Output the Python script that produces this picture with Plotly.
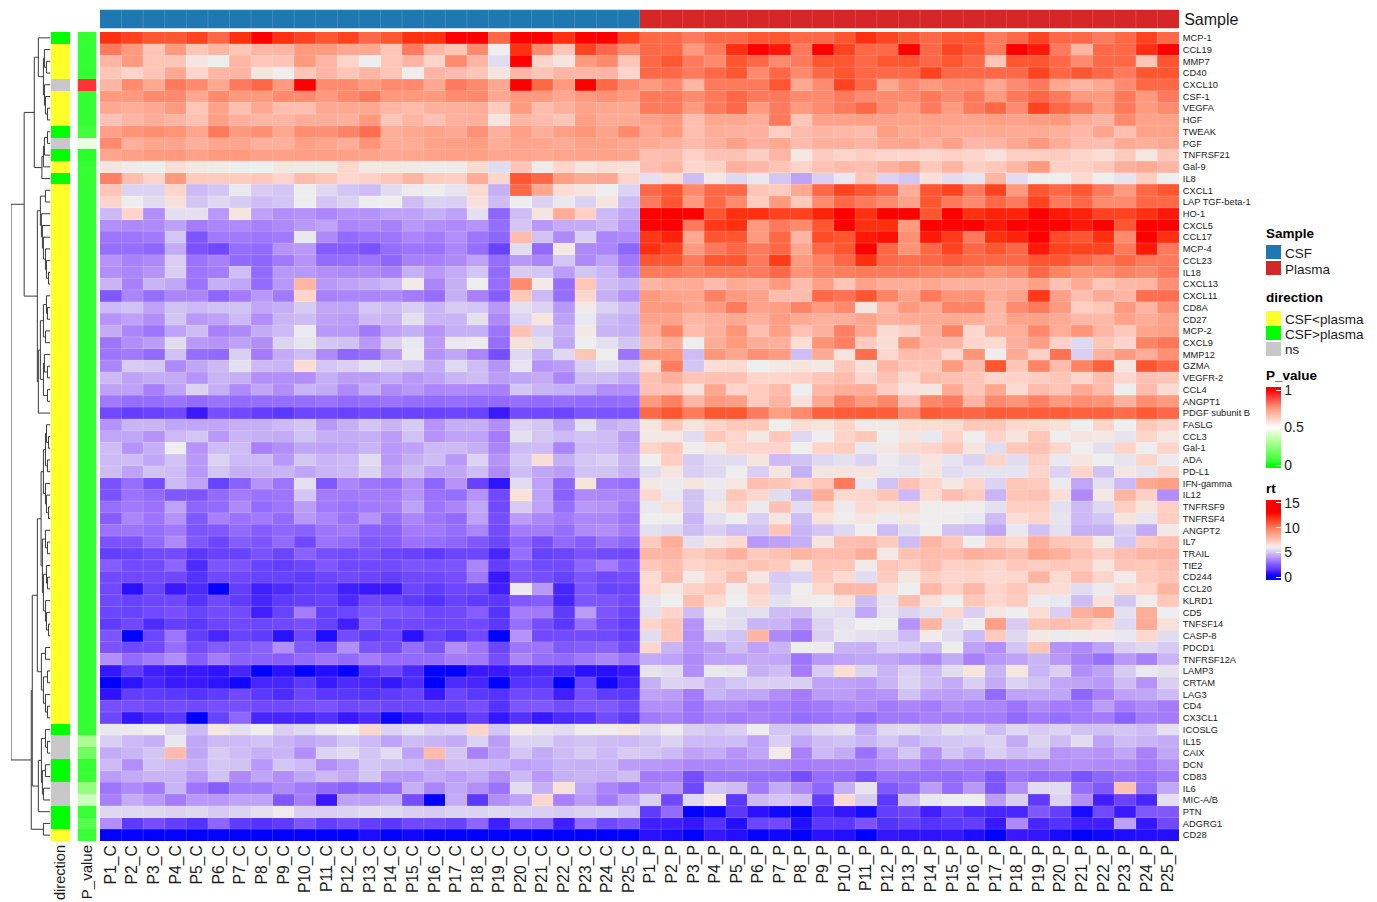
import plotly.graph_objects as go

W, H = 1377, 902

genes = ["MCP-1","CCL19","MMP7","CD40","CXCL10","CSF-1","VEGFA","HGF","TWEAK","PGF","TNFRSF21","Gal-9","IL8",
"CXCL1","LAP TGF-beta-1","HO-1","CXCL5","CCL17","MCP-4","CCL23","IL18","CXCL13","CXCL11","CD8A","CD27","MCP-2",
"CXCL9","MMP12","GZMA","VEGFR-2","CCL4","ANGPT1","PDGF subunit B","FASLG","CCL3","Gal-1","ADA","PD-L1","IFN-gamma",
"IL12","TNFRSF9","TNFRSF4","ANGPT2","IL7","TRAIL","TIE2","CD244","CCL20","KLRD1","CD5","TNFSF14","CASP-8","PDCD1",
"TNFRSF12A","LAMP3","CRTAM","LAG3","CD4","CX3CL1","ICOSLG","IL15","CAIX","DCN","CD83","IL6","MIC-A/B","PTN","ADGRG1","CD28"]
samples = [f"P{i}_C" for i in range(1, 26)] + [f"P{i}_P" for i in range(1, 26)]

rt_csf = [
[12,11.5,11,11,11.5,10.5,12,13,12,11.5,11,11.5,10.5,11,12,12,13,13,10.5,13,13,12,13,13,11.5],
[10,9,7.5,9,7.5,8,7.5,8,8,9,9,8.5,8.5,7.5,10,8,7.5,9.5,6,12,9.5,7.5,11.5,10.5,9.5],
[8,9,7.5,7.5,6.5,6,8,7.5,7.5,9,8,7,6,7.5,8,7,9.5,8,5.5,13,7,6.5,9,9.5,7.5],
[7.5,7,7.5,8.5,7,8,8,6.5,6,7.5,8,7.5,8,7.5,6,8,7.8,7.5,6.5,8,7.5,8,8,8,7],
[8,9.5,8.5,10,9.5,8.5,10,10.5,9,13,9.5,9.5,9,9.5,9.5,8.5,10,9.5,8.5,13,10.5,9,13,10.5,9.5],
[9,9,9.5,9.5,8.5,9.5,9,9,9.5,9.5,9,9.5,10,9,9,9,9.5,9.5,8.5,9,9,8.5,9,9.3,9],
[8.5,8.3,8.5,9,7.5,8.7,7.7,8.5,7.7,7.7,8.5,8.5,8.5,8,7.8,8.2,8.2,8.3,7.3,9,7.8,8.2,8.7,8.5,8.5],
[7.6,8,8.3,8,7.6,8.8,8.2,8,8,8.3,8.3,8.2,9,7.5,8,7.6,8.2,8.2,6.5,8,7.8,7.5,8.8,8.4,8.4],
[8.8,9.2,9.4,9.2,8.6,10,9,9.3,8.5,9.4,9.3,9.7,10.3,8.3,8.5,8.7,8.5,9.3,8.2,8.8,8.3,8.8,9.2,8.7,9.5],
[9.5,8.2,8.6,8.6,8.2,8.6,8.6,8.2,8.2,8.8,8.6,8.3,9.2,8.3,8.3,8.7,8.8,8.9,8.3,8.6,8.6,8.4,8.7,8.7,8.5],
[8.6,8.8,9,9,8.7,9,9,8.8,8.8,8.9,8.9,8.8,8.7,8.5,8.6,8.7,8.8,8.8,8.6,8.6,8.5,8.6,8.7,8.7,8.6],
[6.5,6.2,6,6.7,6.4,6.2,6.1,6,6.4,6.3,6.3,6.9,6.3,6.4,6.3,6.2,6.2,6.8,5.5,7.5,6.2,7,6.5,6.7,6.6],
[9.8,7.7,7,9,7.3,7.3,7.3,7.4,7,7.8,7.5,6.9,7.1,7.5,8,7.3,7.2,8.3,6.9,11,10.5,8.8,8.4,8.5,7],
[7.5,5.3,5.3,7,4.7,5,5.8,5.1,5,6,5.4,5,4.8,5.5,5.9,6,5.7,6.8,4.5,10.5,8.5,6.7,6.5,6,5.3],
[7,6,5.5,6.6,5,5.4,5.1,4.8,5,6,5,5.3,6,6,4.8,5.3,5.2,6.6,4.8,6,5.3,5.8,5.3,6.5,4.8],
[4.7,7,3.8,5.6,5.6,4,6.5,4.2,3.8,3.9,3.6,3.9,3.9,4.2,4.2,4.5,4.2,5.6,2.8,4.8,6.5,8.3,7.1,4.7,4.3],
[3.8,3.7,3.7,4.2,3.4,3.6,3.7,3.5,3.7,4,4.2,3.6,3.7,3.5,4,3.8,3.7,3.9,3,5,4,4.4,4.4,4.7,4],
[3.2,3.2,3.3,5,2.4,3.3,3.3,3.2,3.3,5.8,3.7,2.9,3.1,3.2,3.6,3.4,3.8,3.2,2.8,7.8,4.9,3.7,5.2,3.6,3.7],
[3,3,2.8,4.4,2.3,2,3,2.9,3.9,4,2.6,2.6,2.3,3,3.2,3.1,3.6,3,1.8,5.5,2.9,6.3,3.7,3.6,2.8],
[3.9,3.5,3.7,5.2,3.1,3.5,2.9,2.8,3.3,3.9,2.9,3,3.2,2.8,3.5,3.5,3.7,4.2,3,4,3.6,5,3.7,4.2,3.3],
[3.8,3.6,3.9,5.2,3.2,3.4,4.8,2.9,4,4,3.8,3.7,3.7,3.5,4.5,4,4.4,5,2.9,5.1,5,4.1,5,4.6,3.7],
[4.6,3.5,4.6,4.3,3.1,4.5,4.3,2.9,4,8,4,4.2,4.4,4.7,6.2,3.6,4.5,6,3,9.5,6.2,3,7.5,4.8,4.5],
[2.5,3.6,3,3.6,3.6,2.8,3.4,4,3.3,7,3.5,3.6,3.6,3.7,3.4,3,4.5,3.5,2.6,7.4,4.7,3,6.9,4.5,3.9],
[4.7,4.9,4.2,4.9,4.7,4.9,4.9,4.3,4.5,5.1,4.3,4.3,5,4.8,5.2,4.6,5.1,5,4,5.6,5.3,4,6.2,5.3,4.8],
[3.9,4.2,3.8,5,4,4.2,4.7,3.8,4.6,4.8,4.2,4.1,4.7,4.6,5.6,4.6,4.6,5.6,3.7,5.3,6.5,4.2,5.8,4.8,4.5],
[4.4,3.6,3.2,4.2,4.8,3.5,3.7,4.4,4.7,5.9,4,4,3.3,4.2,4.5,3.9,4.5,4.5,3.2,7.6,5.2,4.5,6.3,4.6,4.5],
[3.2,3.8,4.1,5.5,4,3.9,4.2,3.8,5.3,5.7,5,4.9,4,5.2,5.8,4.1,5.8,5.9,3,6.6,5.6,4.3,6,5.6,5],
[3.2,3.3,2.9,4.9,3,2.9,5.2,3.4,4.4,4.8,3.7,2.8,3,4.1,5.9,3.9,4.3,3.6,2.2,5.4,4.5,5.4,7.5,6,3.2],
[3.6,5.1,5,3.7,4.3,4.7,5.6,4.7,4.6,6.7,5,5.2,5.6,5.3,5.1,4.4,5.4,4.8,3.9,5.7,3.9,4.1,5.2,5.6,5.1],
[4.7,4.2,4.4,4.4,3.9,4.6,4.5,3.8,3.8,3.8,4.5,4.1,4.1,4.4,4,4.2,4.6,4.8,4.1,4.3,4.4,3.6,4.8,4.8,4.4],
[4.2,4.2,3.5,4.2,5.3,4.5,3.7,4.3,3.8,4.6,4.4,3.7,4.4,3.7,4,3.6,3.7,3.6,3.5,5,4.6,4.5,4.3,3.8,3.8],
[3.3,3,3,3.1,2.9,3.1,2.9,3,3,3,3.1,2.9,3,3.1,3,2.9,3,2.9,2.9,3,2.9,3,2.9,2.9,3],
[2,1.7,1.8,2,1,2.2,2,1.7,1.5,1.9,1.9,1.8,2,1.8,1.8,1.8,1.9,1.8,1,2.1,2,1.9,2.4,2.3,2.3],
[3.9,4.6,4.6,4.3,4.3,4.3,4.5,4.5,4.7,5,4,4.5,5,4.6,5.1,3.9,4.5,4.5,3.8,5.3,5,4.2,5.6,4.5,4.7],
[4.3,4.3,3.9,4.7,5,4,4.6,4.5,4.4,4.9,4.5,4.4,4.5,4.1,4.9,3.9,4.2,4.2,3.4,5.6,5,4.7,4.9,4.8,4.1],
[4.8,3.9,4.5,6,3.9,4.8,4.8,3.5,3.8,4.3,4.2,4.3,4.6,4,4.2,4.7,4.7,4.5,3.6,4.8,4.8,3.6,4.8,4.7,4.3],
[4.7,4.8,4.3,4.9,4,5.3,4.7,4.7,4,5,4.6,4.7,5.5,4,4.5,4.8,4,5.3,3.9,5,6.7,4.5,5,5.2,4.6],
[4.8,4.2,4.9,4.8,4,5,4.5,4.5,4.6,4.3,4.6,4.7,5.3,4.2,4.8,4.2,4.3,4.8,3.7,4.8,4.3,4.1,4.9,4.9,4.5],
[2.3,3,2.2,4.7,4.2,1.8,2.7,3.9,3.2,5.6,2.5,3.6,3.2,3,3.8,2.8,3.9,1.8,0.8,5.5,4.2,2.8,6.5,3.2,3],
[2.3,3.1,2.9,2.5,2.4,2.9,3.4,3.1,3.2,5,3.4,3.3,3.4,3.4,3.9,3.1,3,3.9,2,6.6,4.2,2.7,3.7,3.6,3.6],
[3,3.3,3.1,4.2,2.8,2.9,3.7,2.9,3.2,4.1,3.3,3.1,3.3,3.4,4.2,3.2,3.6,4.3,2,5.1,4.2,3,4,3.9,3.4],
[2.6,3.6,3.2,3.9,2.5,3.5,3.1,3.3,2.9,4,3.6,3.1,3.9,3,3.6,3.2,2.9,4.2,2.2,4.1,3.6,3.3,3.6,3.6,3.2],
[3.1,3.2,3,3.3,2.4,2.5,2.9,2.6,2.8,2.7,3.2,3.3,2.7,2.7,3.4,3.3,3,3.6,2.1,3.4,3.4,3,3.7,3.8,3.4],
[2.3,2.4,2.9,3.7,2.5,1.9,2.6,2.4,2.9,2,3.1,2.9,2.5,2.6,3.1,3,2.8,2.5,1.9,2.8,2.2,2.9,2.6,3.1,2.8],
[1.7,1.8,2.1,2.1,1.5,1.8,1.8,2.3,1.9,2.7,2.2,2.1,2.3,1.9,1.8,1.6,1.9,1.9,1.2,3,1.8,1.9,2.3,2.1,2],
[2.6,2.1,2.1,2.8,1.3,2.4,2.4,1.8,1.7,1.9,2.5,2,2,2.1,2.4,2.3,2.4,3.6,1.7,2.5,2.1,2.1,2.8,3.4,2.6],
[2,2,2,2,1.4,2,2,1.8,1.8,1.6,1.9,2.1,1.9,1.7,2,2,2.2,3.3,1,2.4,2.2,1.8,2.4,2,2.2],
[2,0.7,1.8,1,1.3,0.1,1.7,1.1,1.3,1.6,1.6,1.1,1,1,1.9,1.6,1.9,1.9,1.1,5.9,4,1.2,2.4,1.8,1.9],
[2,1.8,1.9,2,1.4,2,1.6,1.2,1.6,1.7,1.8,1.3,2,1.8,1.6,1.4,1.8,1.6,1.5,2.5,2.6,1.2,2.4,2.4,2.1],
[1.9,1.8,2,2.2,1.8,2.1,2.1,1.1,1.8,3.4,1.7,1.9,2.4,2.4,2.3,1.9,2,2.6,1.4,3.4,3.3,1.6,4.1,2.4,1.9],
[1.6,2,1.3,1.7,1.5,1.9,2,1.9,2,2.2,1.8,1.1,2.6,1.9,2,1.9,2,2,1.5,3,2.2,1.5,3,2.1,1.7],
[2.4,0,1.9,3.2,1.7,1.2,1.8,1.6,0.7,1.9,0.5,2.1,1.6,1.9,0.7,1.8,1.4,2,0,3.9,2,2.1,2.1,2,1.7],
[2.3,2,2,3,2.1,2.6,2.5,2.7,3.8,2.5,2.3,3.8,2.3,2.1,3,2.4,3.8,3.2,1.9,3.2,3.2,2.5,2.6,2.7,2.1],
[3.8,2.9,3.3,3.8,2.6,3.4,2.7,2.7,2.6,2.9,3.2,2.9,3.4,2.9,2.9,3,3.4,3.3,2.2,3.6,3,2.9,3.3,3.6,3.1],
[0.9,1.6,1.1,1,1,0.8,1.2,0,0.7,0.1,0.6,0.1,1.4,1.9,1.3,0.1,0,1,1,1.2,1.3,1.2,0.7,0.7,1],
[0,0.8,1.2,1,1,0.8,0.3,1.2,1.2,1.5,1,1.3,1.2,0.9,1.3,0,1.3,1.2,0,1.4,1.4,0,1.8,0.3,1.2],
[0.8,1.7,1.6,1.5,1.4,1.6,2,1.5,1.3,1.9,1.5,1.5,1.4,1.6,1.8,1,1.9,1.5,1.4,2,1.9,1.1,2.2,1.6,1.5],
[2.2,2.2,2,2.1,2,2.2,2.2,2,2,2.2,2.3,2,2.1,1.9,1.9,1.9,1.9,2.2,1.4,2.4,2.5,2.1,2.5,2.5,2.1],
[1.9,0.9,1.3,1.5,0,1.8,2.8,1.2,1.2,1.2,1.4,1,1.3,0.2,1,1.3,1.2,1.7,0.9,1.4,1,1.3,1.4,2.1,1.6],
[5.8,5.9,6,5.4,4.7,6.4,5.6,6,5.2,5.4,5.8,6,6.9,5.3,5.6,5.2,5.3,7,5,6.2,5.7,5.5,6,6.1,6.4],
[5.2,4.7,4.5,5.8,4.3,4.7,4.7,4.9,4.6,4.3,4.5,5,4.7,4.2,4.8,4.6,4.4,5.3,4.1,5.3,5.3,4.8,4.9,4.8,4.7],
[4.4,4.6,5,7.8,4.3,5.1,4.8,4.5,4.6,3.8,5.3,5.5,5,5.5,4.2,7.8,5,3.5,4.2,5,4.4,4.8,5.1,4.7,5.1],
[4.7,3.8,4.9,4.7,4.5,5,4.9,4,5,4.7,3.8,4.2,5,4.8,4.7,4.4,4.8,4.7,4.6,4.2,4.3,4.6,4.5,4.6,4.1],
[4.1,4.4,4.6,4.6,4,4.9,3.7,4.3,3.8,4.3,4.7,4.4,5,4,4,4.4,4.1,4.4,3.8,4.7,4,4.5,4.6,4.5,4.8],
[3.2,3.7,3.3,4.6,3.2,2.6,3.3,3.3,3.7,3.3,2.9,2.7,2.9,3,4.5,3.6,4.3,3.8,3.1,5.5,4.5,6.6,4.3,3.6,3.1],
[3.5,4.4,4,3.4,4,4,4.2,4.2,2.5,3.4,1,4.2,4.2,4.5,2.2,0,4.4,1.5,3.8,4.2,6.9,3.5,4.1,3.4,4.2],
[5.4,5.4,5.4,5.3,5.4,5.1,5.3,5.6,6.1,5.2,5.2,5.3,5.5,5.4,5.2,5.1,5.3,5.3,5.4,5.3,5.2,5.1,5.3,5.4,5.1],
[3.8,1.6,2.2,1.7,1.4,2.8,1.6,1.4,1.6,2.4,1.7,2.1,1.7,1.5,2,2,1.8,2.8,1.1,2.8,2.7,1.1,2.9,2,2.4],
[0,0.1,0,0.1,0,0.1,0,0,0,0.1,0,0,0.5,0,0.3,0,0,0,0,0,0,0,0,0,0],
]

rt_plasma = [
[10.5,10.5,10,10.5,10.5,11,11,10.5,10.5,11,12,11.5,11,10.5,11,11,10,10.5,11.5,10.5,10.5,10,10.5,11.5,10.5],
[10.5,10.5,9,10,12,13,12.5,10,13,11.5,10.5,10.5,13,10.5,11.5,11,10,13,12.5,10,8,10.5,10.5,12,13],
[10.5,11,10,9.5,11,10.5,9.5,10,11,11,10.5,11,11,10.5,11,10.5,7.5,11,11,10.5,9.5,10.5,10.5,7.5,11],
[10.5,10.5,10,10.5,11,9.5,10.5,9.5,10.5,11,10.5,10.5,10.5,11.5,10.5,10.5,10.5,10.5,11.5,10.5,11,10.5,10,11,11],
[9,9.5,8,10,10,10,11,8.5,9.5,11.5,10.5,8.5,9.5,9,9.5,9.5,8.5,9.5,10,8.5,8,8.5,9.5,10.5,10.5],
[10,10,9.5,10,10.5,10,10,9.5,9.5,10,9.5,9.5,9.5,10,9.5,10,9,10,10.5,10,9,9,10,9,10],
[10,10,9,10,10.5,9,10,9,9.5,10,10.5,9.5,9,10,9,10,10.5,9.5,11.5,10.5,10,9,10,9,9.5],
[8.7,9,7.7,8.5,8.5,8.3,10,7.5,8.7,8.7,8.8,8.7,8.7,8.7,8.7,8.6,8.8,8.7,8.9,9,8.3,8,9.5,8.7,8.7],
[8.5,9,7.7,8.3,8.2,8.2,7.2,7.8,8,7.9,7.8,8.9,8.4,8.6,8.4,8.4,8.5,8.4,8.4,8.2,7.9,8.6,7.7,8.7,8.7],
[8.4,8.2,7.8,8.2,8.7,8.2,8.5,7.8,8.2,8.2,8,8.5,8.6,8.2,8.7,7.9,8,8.5,9,8.3,7.8,7.7,8.4,8.2,8.5],
[7.7,7.8,7.1,7.6,7.6,7.2,8,6.3,7.3,7,7.2,7,7,6.9,7.1,7,6.6,7.2,7.2,7.3,7,6.7,7.3,6.4,7.5],
[7.7,8,6.9,7.1,8.2,7.9,7.5,7,7.6,7.8,7.7,8.1,8.6,7.4,8,7.2,7.4,8,9,7.1,7.1,7.4,8.2,8.4,8],
[5.6,6.8,4.8,6.3,5.4,5.8,5,4.2,5.2,5.8,7.5,5.3,5,6.6,5.5,5.7,8,5.5,6,6,6.8,6,5.7,7.2,6],
[10.5,11,9.5,10.5,10.5,7.5,7.3,8.5,10.5,11.5,11,10.5,8.3,11,11.5,10,11.5,9,11,10.5,11,10,9,10.5,11],
[10,11,9,10.5,9.5,7.2,9,7.4,9.5,10.5,10,9.5,8.7,11,10,9.5,10.5,10,11.5,10,10.5,9.5,9.5,10.5,10.5],
[13,13,13,11,12,12,11.5,11.5,12.3,13,12,13,13,11,13,12,12.3,12.3,13,12.5,12.3,11.5,11.5,12,12.5],
[13,13,10,11.8,12,9,10,9.5,11,13,12,12,9,13,13,13,12.5,13,13,13,12.5,13,11,13,13],
[11.8,12.3,8.5,11,11,9,10.5,8,11.3,11,12.5,12.7,9.3,12.5,11.7,10,12,12.3,13,11.3,11,12,9.5,13,12],
[12,11.5,9,10,10.5,10,10.5,8.5,10.5,11,13,10.5,9.2,10.5,11.5,10.5,11,10.5,12.5,11.5,11.5,11.5,10,12.5,10],
[11,11,10,11,11,10,11.7,9,9.8,10.5,12,10.5,10.3,10.5,10.8,10.5,10.5,10.5,11,11,10.5,10,10.5,10,10],
[10,10,9.7,10,10,10,10.5,9.2,9.7,9.9,10,10,10,9.7,9.7,9.7,9.2,9.5,10.5,9.7,9.2,9.3,9.8,9.5,10],
[8,8.3,8.4,7.8,8.4,8.2,9,7.8,8.8,7.5,8.7,8.3,8.3,8.5,8.2,8.2,8.2,8.2,8.8,7.6,8.4,7.5,7.9,8,9.3],
[9,8.7,8.6,9.8,9,8.7,7.8,7.8,10.5,10.2,11,9.7,8.7,10,9.2,9.2,8.3,8.7,11.8,8.8,7.7,8.4,8,10.3,10.3],
[9,9.1,8.6,9,10,8.7,8.9,9.7,9,9.5,6.5,8,9,8.5,9.7,9.7,8,9.5,10,9,7.2,7.4,9,8,9.3],
[8.7,8.7,8,8.2,8.5,8.2,8.9,8.4,8.2,8.2,8.6,8.1,8.3,8.4,8.4,8.3,7.9,8.7,8.7,8.4,7.9,7.9,8.7,8.3,8.7],
[8.3,9.7,7.8,8.2,9.2,7.7,8.8,7.6,8.2,9.8,8.5,6.8,7.2,8.2,9.7,6.9,8.2,8.3,9.6,8.3,9.2,8,7.4,8.6,8.8],
[7.8,8.3,6,8.3,9,8.3,8.2,6.7,9.2,9.8,7.3,6.7,9,8,8,7,6.8,8.2,8.8,7.1,5.4,7.5,7,9.7,10.1],
[9.2,9.2,4.8,9.1,8.6,9.3,8.9,4.8,8.4,6.5,10.3,6.9,7.8,7.8,6.9,9.2,6,8.4,7.1,10.2,5.2,8.1,9,8.3,9.3],
[6.8,9.9,5,6.7,6.8,6,6.3,6.5,6.3,7.4,6.6,8,7.5,7.5,9,7.8,11,7.5,9.7,7.8,9.7,10.7,6.4,11,10.5],
[7.6,8.2,7.5,7.6,7.6,7,7,7.1,7.5,7.8,6.9,7.6,6.9,7.8,7.6,7.5,7,7.1,7.2,7.5,7,7.7,6.9,7.6,7.5],
[7.6,7.6,6.6,8.5,7,7.3,7.8,6,7.9,8.2,8.3,7.2,6.6,6.5,8.4,7.5,8.5,6.8,7.8,7.5,8.4,7.8,6,7.8,6.8],
[9,9.8,8,9,8.8,7.3,8,6.6,8.5,9.8,9,9.6,7.7,9.6,9.9,8,9.5,9.2,9.8,9,9.4,9.2,8.2,9.4,9],
[10.5,11,10,11,11,10,8.8,9.5,10.7,10.8,10.9,10.8,9.5,10.9,10.7,10.6,10.9,10.8,10.8,10.8,10.7,10.7,10.4,10.9,10.5],
[6.5,7.4,6.5,7,7.4,7.4,6,6.7,6.5,7,6.2,6.3,6.7,6.7,6.8,7.4,7.4,6.9,6.8,6.6,6,7,6,7.4,7],
[6.3,6.4,5.5,7.4,6.9,6.3,7.4,5.4,6,7,7.4,6,6.5,5.8,7,6,7,6.5,7.5,6,6.5,6.3,5.7,7,6.4],
[7,7.4,6.1,6.4,7,7,7,6,7,7.2,5.8,6.3,6.8,7,7.4,6.5,5.5,7.4,7.6,6.9,6,5.6,7,6,7],
[6,7.2,5.1,5.5,5.5,6.5,4.7,4.9,5.4,5.6,5.3,5.9,5.6,6.5,5.7,5.3,7,5.5,7.2,5.8,6.5,6,5.7,7,5.9],
[5.5,6.5,5.2,5.4,6,5.2,6.5,4.5,6.5,6.5,6.5,5.8,5.7,6.5,5.5,5.7,5.7,5.7,7,5.3,7,4.9,6.4,5.7,7],
[6.3,5.9,6.5,5.9,6.4,7.7,7.5,7,7.5,10,5.8,4.9,7.6,7,6.3,7,5.3,7.5,7.3,5.9,4.3,5.6,4.7,8.5,8.8],
[6.9,5.8,4.9,5.7,7.4,6.9,5.5,4.6,8.3,6.8,7,7.5,4.7,6.8,7.7,7.3,4.6,7.5,7.6,6.7,3.7,6.3,8,7.1,3.8],
[5.8,6.6,4.9,6.4,7,5.9,7.6,5.5,7.1,5.9,6.8,6.6,6.7,6.1,6.1,6.1,5.6,7.2,7.2,5.6,4.7,5.4,7.2,6.5,7.2],
[6,6.1,4.6,5.6,6,5.2,6.4,4.8,6.6,6.1,6.5,5.9,6.4,6,6.1,5.8,4.8,6.7,7,5.7,4.7,5,6.5,5.7,7.2],
[5.6,5.4,4.8,5.2,4.8,4.9,7.5,4.6,5,5.4,6,4.8,5.5,6,4.9,4.8,4.3,5.8,4.9,5.6,4.5,4.5,5.2,4.4,6.3],
[7.3,8.3,5.6,6.5,6.8,4,4.2,4.5,6.5,7.7,7.8,7.3,4.8,8,7.4,6,7.2,6.8,8.2,7.5,7.3,6.3,5,7.3,7.7],
[8,8,7.3,7.6,8.2,7.3,7.6,8,7.8,7.8,8.3,6.3,7.6,7.8,7.8,8.2,8,7.7,8.6,8.2,7.6,7.2,7.7,8,8],
[7.4,7.7,7,7.2,7.3,7.6,7.3,6.5,7.5,7.5,6.2,7.5,7.2,7.7,7.1,7.2,6.9,7.4,7.2,7.4,7.3,6.5,7.5,7.4,7.7],
[6.8,7.8,6.2,7,7.7,6.4,5.1,5.3,7.3,6.8,5.5,7.3,6.4,7.2,6.9,7,6.8,6.9,8,6.8,7.7,7,6.2,7.3,7.5],
[6.9,6.4,7.1,7.4,6.2,7.1,5.3,6,6.9,7.9,7.9,6.7,6,7.9,7.1,7.9,7,7.4,6.8,6.7,5.5,5.9,6.8,7,8],
[5.7,6,7.7,6.8,6,6.8,5.6,6.2,6,6.6,4.8,5.7,7.7,6.6,6,7.4,6.9,7.3,5.9,5.8,4.8,6.6,5,6.1,7.4],
[5.6,7,4.8,6.1,5.5,5.6,4.8,4.8,5.6,5.5,4.3,5.7,5.3,5.6,6.9,5.2,6.4,6,6.7,5.2,8.2,8.7,5.6,8.3,6],
[7,7.5,3.9,5.7,5.5,4.6,4.6,4,5.3,5.7,6,6,3.9,8,5.5,6,8.8,5.1,7.5,7.7,7.5,7,5.4,8.4,6.6],
[5.5,7.5,3.8,5.2,4.9,8,3.7,3.2,5.2,5.8,5.6,5.5,4.7,6.2,5.5,4.8,7.3,5.4,6.3,5.9,6.2,6.2,5.8,6.9,5.5],
[6.9,4.6,3.9,4.1,4.8,4.2,4.6,6,5.9,4.6,4.5,5.2,5.2,4.8,6,4.2,3.8,5,7.5,3.9,3.7,4.2,5.2,5.4,5.1],
[4.4,4.2,3.7,4.2,4.2,4.4,4.3,3.2,4,4.2,4.3,4.3,4,3.7,4.4,3.5,4,4.2,4.6,4,3.5,3,4,3.5,4.6],
[5.7,5.5,3.8,5.8,5.7,4.5,4.8,3.4,5.1,6.7,5.3,4.6,5.2,4.7,5.5,6.5,4.6,6.4,4.6,5.2,3.8,4.2,5.1,5.8,5.6],
[4.5,5.3,5.2,4.6,5,5.2,5.2,5.2,4.2,4.2,4.1,4.6,5.3,4.8,4.4,5.2,4.4,5.3,4.9,4.3,4.2,4,4.8,3.9,5.2],
[4.2,4.1,3.4,4.6,4.3,4.3,3.8,3.4,4.1,4.1,3.8,3.9,4.9,4.2,4.1,4.3,2.9,4.2,4.3,4.3,2.8,3.5,4.2,4.3,4.8],
[3.8,3.8,3.1,3.7,3.7,3.4,3.4,3.2,3.3,3.6,3.7,3.3,3.6,3.4,3.8,3.6,3.6,3.2,3.7,3.4,3.3,4.1,3.4,3.7,3.4],
[3.3,3.5,3.1,3.5,3.3,3.5,3.3,3,3.1,3.3,2.9,3.3,3.3,3.5,3.4,3.4,3.4,2.9,3.3,3,3.3,3.4,2.7,3.4,3.4],
[5.5,5.9,5.2,5,5.2,6,5,4.9,5.4,5.6,4.4,5.4,5.5,5.1,5.6,5.4,4.8,5.4,5.1,5.3,4.9,4.9,5,4.8,5.6],
[4.9,5.3,4.7,4.7,4.8,4.2,5.2,4.3,4.8,4.9,4.6,5,4.5,4.9,5,5.1,5.3,4.4,5.3,4.8,5.5,4.2,4.8,4.6,4.4],
[5,4.7,4.2,4.4,3.9,4.3,6.2,3.5,4.7,4.4,3.1,4.2,5,3.9,5,4.5,5.2,4.8,5,3.9,4,3.9,4.3,3.5,4.3],
[4,3.9,3.6,3.6,3.7,3.7,3.6,3.4,3.5,3.5,3.5,3.8,3.9,3.4,3.6,3.4,3.4,3.6,3.6,3.8,3.8,3.7,3.7,3.4,3.8],
[3.4,3.4,2.2,3.1,3.1,3,3,2.2,3,2.9,2.3,3.1,3,3,2.9,3.1,2.4,3.2,2.9,3,2.3,2.8,3.1,3,3.3],
[3.6,3.9,2,5,4.8,3.3,4.4,3.7,2.8,4.5,5.7,2.5,2.9,4.1,2.9,4,2.4,3.8,5.5,5.5,3,2.5,7.6,3,4.3],
[5.2,2,5.4,6.3,1.5,4.7,5,4.8,1.7,6.8,5.1,1.5,4.8,5.8,6,6,4.1,5.2,1.6,5.3,3.8,1.1,1.8,1.2,5.6],
[1.6,2.9,0,0.3,1.5,0.7,0.3,0,1.2,0.9,0.4,1.7,1.9,1.1,1.7,1.3,1.2,1.2,2.5,1.7,0.4,2,1,2.5,2.5],
[1.1,1.1,0.9,1.4,0.6,1.9,2,0.6,1.5,1.5,2.3,1.4,1.7,1.4,1.5,1.7,1,3.7,1.2,1.4,1.1,1.1,4.2,0.9,2],
[0.7,0.5,0,0.9,0.6,0.1,0.3,0,0.7,0.6,0,0.9,0.8,0.8,0.9,0.5,0,1,0.9,0.4,0,0.3,0.5,0.6,0.6],
]

direction = ["CSF>plasma","CSF<plasma","CSF<plasma","CSF<plasma","ns","CSF<plasma","CSF<plasma","CSF<plasma",
"CSF>plasma","ns","CSF>plasma","CSF<plasma","CSF>plasma"] + ["CSF<plasma"]*46 + ["CSF>plasma","ns","ns","CSF>plasma",
"CSF>plasma","ns","ns","CSF>plasma","CSF>plasma","CSF<plasma"]
p_value = [0.05,0.05,0.05,0.05,0.92,0.05,0.05,0.05,0.08,0.45,0.04,0.05,0.05] + [0.05]*46 + \
          [0.05,0.3,0.17,0.05,0.06,0.25,0.38,0.06,0.12,0.06]

# dendrogram: (height, left, right); a leaf is a row index
tree = (39,
  (26,
    (16,
      (12, 0, (7, (6, 1, (4, 2, 3)), (6, 4, (5, 5, (3, 6, 7))))),
      (8.5, (7, (6, (3, 8, 9), 10), 11), 12)),
    (13,
      (10, (5, 13, 14), (9, 15, (8, 16, (7, 17, (5, 18, (4, 19, (2, 20, 21))))))),
      (12, (10, (7, (4, 22, (3, 23, 24)), (5, 25, 26)), (7, (6, 27, (3, 28, 29)), (3, 30, 31))), 32))),
  (19,
    (18,
      (13,
        (9.3,
          (7, (5, (4, 33, (2, 34, 35)), (3, 36, 37)), (5, 38, (4, 39, (2, 40, 41)))),
          (8, (5, 42, (3, 43, 44)), (7, (4, 45, (3, 46, 47)), (5, 48, (4, 49, (2, 50, 51)))))),
        (9, (5, 52, 53), (7, (3, 54, 55), (5, 56, (3, 57, 58))))),
      (12,
        (9, (5, 59, (3, 60, 61)), (8, (5, 62, 63), (7, 64, 65))),
        66)),
    (7, 67, 68)))

legend_sample = [("CSF", "#1F77B4"), ("Plasma", "#D62728")]
legend_direction = [("CSF<plasma", "#FFFF2A"), ("CSF>plasma", "#00FF00"), ("ns", "#C8C8C8")]

rt_stops = [(0,"#0000FF"),(1,"#3A18FF"),(1.5,"#5A38FF"),(2,"#7048FF"),(2.5,"#8058FF"),(3,"#966EFF"),(3.5,"#A880FA"),
            (4,"#B898F8"),(4.5,"#C6B0F5"),(5,"#D4C6F4"),(5.5,"#E2DCF0"),(6,"#EEEEEE"),(6.5,"#F6E4DE"),(7,"#FFD4CA"),(8,"#FFB5A3"),
            (9,"#FF9A7E"),(10,"#FF7A5C"),(11,"#FF5632"),(12,"#FF3010"),(13,"#FF0000"),(15.6,"#FF0000")]
p_stops = [(0,"#00FF00"),(0.05,"#33FF33"),(0.17,"#70FF60"),(0.3,"#AAFF90"),(0.38,"#CCFFBB"),(0.45,"#E8FFE0"),(0.5,"#FFFFFF"),
           (0.62,"#FFCFC2"),(0.75,"#FF9E81"),(0.92,"#FF3333"),(1.0,"#FF0000")]

for name, tbl in (("csf", rt_csf), ("plasma", rt_plasma)):
    assert len(tbl) == 69, (name, len(tbl))
    bad = [(i, len(r)) for i, r in enumerate(tbl) if len(r) != 25]
    assert not bad, (name, bad)
assert len(direction) == 69 and len(p_value) == 69

TEXT = "#1a1a1a"
FONT = "Liberation Sans"

def xdom(a, b): return [a / W, b / W]
def ydom(top, bot): return [1 - bot / H, 1 - top / H]
def scale(stops, lo, hi):
    s = [[(v - lo) / (hi - lo), c] for v, c in stops]
    return [[0, stops[0][1]]] + s + [[1, stops[-1][1]]]

RT_LO, RT_HI = -0.6, 15.6
P_LO, P_HI = -0.04, 1.04
rt_scale = scale(rt_stops[:-1], RT_LO, RT_HI)
p_scale = scale(p_stops, P_LO, P_HI)

rows = list(range(len(genes)))
cols = list(range(len(samples)))
z = [a + b for a, b in zip(rt_csf, rt_plasma)]

fig = go.Figure()
fig.add_trace(go.Heatmap(z=z, x=cols, y=rows, colorscale=rt_scale, zmin=RT_LO, zmax=RT_HI, xaxis="x", yaxis="y",
    colorbar=dict(x=1266/W, xanchor="left", y=1-580/H, yanchor="bottom", lenmode="pixels", len=100, thickness=15,
        xpad=0, ypad=0, outlinewidth=0, ticks="inside", ticklen=5, tickcolor="white", tickvals=[0,5,10,15],
        tickfont=dict(size=14, color=TEXT, family=FONT),
        title=dict(text="<b>rt</b>", side="top", font=dict(size=13.5, color="#000", family=FONT)))))

# Sample bar
kinds = [0]*25 + [1]*25
fig.add_trace(go.Heatmap(z=[kinds], x=cols, y=["Sample"], xaxis="x2", yaxis="y2", showscale=False, zmin=0, zmax=1,
    colorscale=[[0, legend_sample[0][1]], [0.5, legend_sample[0][1]], [0.5, legend_sample[1][1]], [1, legend_sample[1][1]]]))

# direction column
dir_names = [d[0] for d in legend_direction]
dz = [[dir_names.index(d)] for d in direction]
c = [d[1] for d in legend_direction]
fig.add_trace(go.Heatmap(z=dz, x=["direction"], y=rows, xaxis="x3", yaxis="y3", showscale=False, zmin=0, zmax=2,
    colorscale=[[0,c[0]],[1/3,c[0]],[1/3,c[1]],[2/3,c[1]],[2/3,c[2]],[1,c[2]]]))

# P_value column
fig.add_trace(go.Heatmap(z=[[p] for p in p_value], x=["P_value"], y=rows, xaxis="x4", yaxis="y4",
    colorscale=p_scale, zmin=P_LO, zmax=P_HI,
    colorbar=dict(x=1266/W, xanchor="left", y=1-468/H, yanchor="bottom", lenmode="pixels", len=101, thickness=15,
        xpad=0, ypad=0, outlinewidth=0, ticks="inside", ticklen=5, tickcolor="white", tickvals=[0,0.5,1],
        tickfont=dict(size=14, color=TEXT, family=FONT),
        title=dict(text="<b>P_value</b>", side="top", font=dict(size=13.5, color="#000", family=FONT)))))

# faint cell separators
gx, gy = [], []
for k in cols[1:]:
    gx += [k - .5, k - .5, None]; gy += [-.5, len(genes) - .5, None]
for k in rows[1:]:
    gx += [-.5, len(samples) - .5, None]; gy += [k - .5, k - .5, None]
fig.add_trace(go.Scatter(x=gx, y=gy, mode="lines", xaxis="x", yaxis="y", hoverinfo="skip", showlegend=False,
                         line=dict(color="rgba(255,255,255,0.18)", width=1)))
gx2, gy2 = [], []
for k in cols[1:]:
    gx2 += [k - .5, k - .5, None]; gy2 += [-.5, .5, None]
fig.add_trace(go.Scatter(x=gx2, y=gy2, mode="lines", xaxis="x2", yaxis="y6", hoverinfo="skip", showlegend=False,
                         line=dict(color="rgba(255,255,255,0.16)", width=1)))

# dendrogram
dx, dy = [], []
def walk(node):
    if isinstance(node, int):
        return 0, node
    h, a, b = node
    ha, ya = walk(a); hb, yb = walk(b)
    dx.extend([ha, h, h, hb, None]); dy.extend([ya, ya, yb, yb, None])
    return h, (ya + yb) / 2
walk(tree)
fig.add_trace(go.Scatter(x=dx, y=dy, mode="lines", xaxis="x5", yaxis="y5", hoverinfo="skip", showlegend=False,
                         line=dict(color="#3a3a3a", width=1)))

blank = dict(ticks="", showgrid=False, zeroline=False, showline=False)
pad = dict(ticks="outside", ticklen=1, tickwidth=1, tickcolor="rgba(0,0,0,0)", showgrid=False, zeroline=False, showline=False)
yr = [len(genes) - .5, -.5]
main_dom_x = xdom(100, 1179)
main_dom_y = ydom(32, 841)
xfont = dict(size=15.7, color=TEXT, family=FONT)
layout = dict(
    width=W, height=H, margin=dict(l=0, r=0, t=0, b=0, autoexpand=False), paper_bgcolor="white", plot_bgcolor="white", showlegend=False,
    font=dict(family=FONT),
    xaxis=dict(domain=main_dom_x, range=[-.5, 49.5], tickvals=cols, ticktext=samples, tickangle=-90, tickfont=xfont, anchor="y", **blank),
    yaxis=dict(domain=main_dom_y, range=yr, side="right", tickvals=rows, ticktext=genes, anchor="x",
               tickfont=dict(size=9.3, color=TEXT, family=FONT), **pad),
    xaxis2=dict(domain=main_dom_x, range=[-.5, 49.5], showticklabels=False, anchor="y2", **blank),
    yaxis2=dict(domain=ydom(9.5, 28.5), side="right", anchor="x2", tickfont=dict(size=16, color=TEXT, family=FONT), **pad),
    yaxis6=dict(domain=ydom(9.5, 28.5), range=[-.5, .5], visible=False, anchor="x2", overlaying="y2"),
    xaxis3=dict(domain=xdom(51, 70), tickangle=-90, tickfont=dict(size=14.6, color=TEXT, family=FONT), anchor="y3", **blank),
    yaxis3=dict(domain=main_dom_y, range=yr, showticklabels=False, anchor="x3", **blank),
    xaxis4=dict(domain=xdom(77.5, 96.5), tickangle=-90, tickfont=dict(size=15, color=TEXT, family=FONT), anchor="y4", **blank),
    yaxis4=dict(domain=main_dom_y, range=yr, showticklabels=False, anchor="x4", **blank),
    xaxis5=dict(domain=xdom(11, 50.5), range=[39, 0], visible=False, anchor="y5"),
    yaxis5=dict(domain=main_dom_y, range=yr, visible=False, anchor="x5"),
)

shapes, annots = [], []
def note(x, y, text, size=13.5):
    annots.append(dict(x=(x-2)/W, y=1-y/H, xref="paper", yref="paper", xanchor="left", yanchor="middle", showarrow=False,
                       text=text, font=dict(size=size, color=TEXT if not text.startswith("<b>") else "#000", family=FONT)))
def swatch(y0, y1, col):
    shapes.append(dict(type="rect", xref="paper", yref="paper", x0=1266/W, x1=1281/W, y0=1-y1/H, y1=1-y0/H,
                       fillcolor=col, line=dict(width=0)))
note(1266, 233, "<b>Sample</b>")
for (label, col), (y0, y1) in zip(legend_sample, [(245, 259), (261, 275)]):
    swatch(y0, y1, col); note(1285, (y0 + y1) / 2 + 1, label, 13.5)
note(1266, 298, "<b>direction</b>")
for (label, col), (y0, y1) in zip(legend_direction, [(311, 325), (326, 340), (342, 356)]):
    swatch(y0, y1, col); note(1285, (y0 + y1) / 2 + 1, label, 13.5)
layout["shapes"] = shapes
layout["annotations"] = annots

fig.update_layout(**layout)
fig.write_html("out.html", config=dict(displayModeBar=False),
               post_script="document.body.style.margin='0';document.body.style.overflow='hidden';")
